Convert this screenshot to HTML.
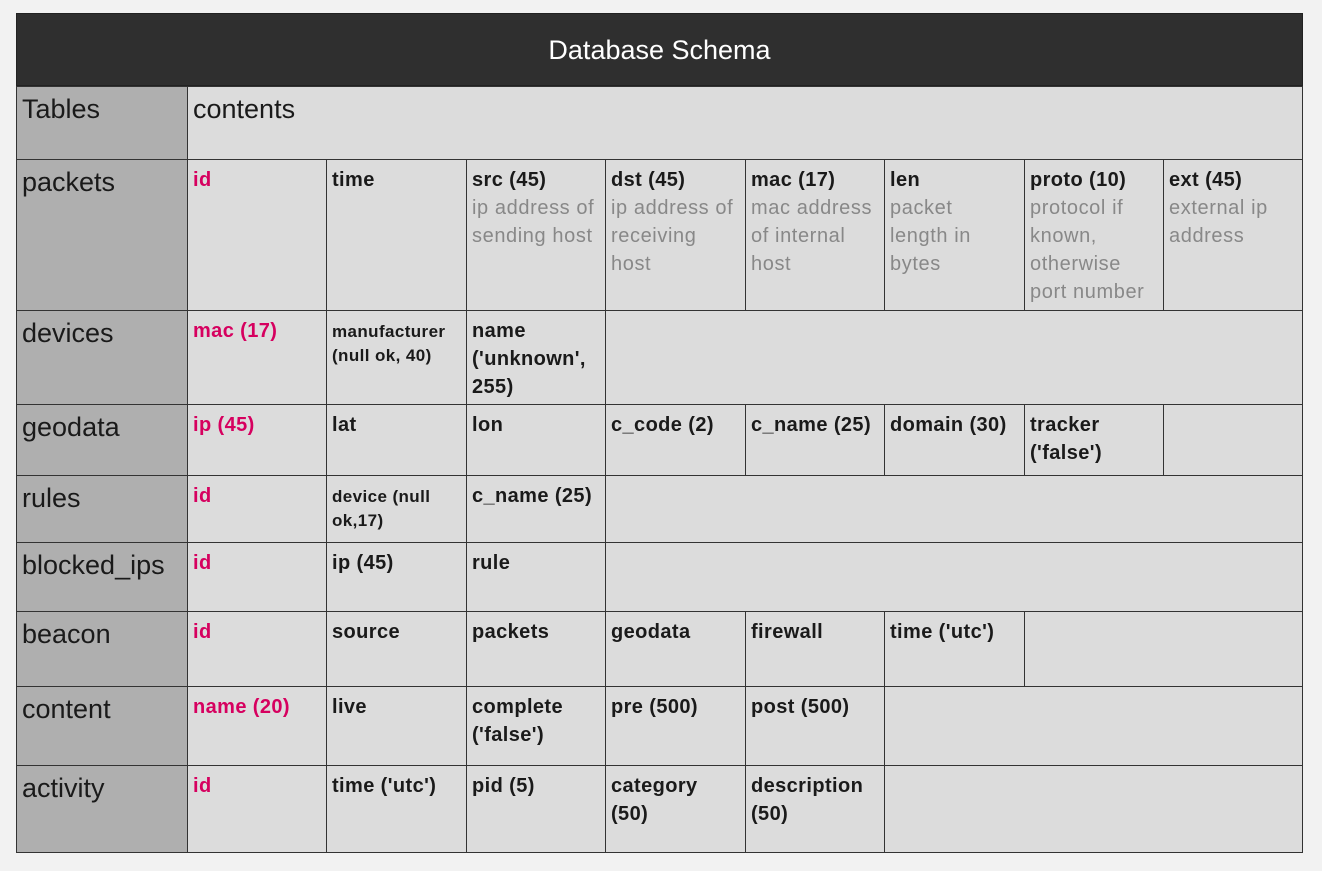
<!DOCTYPE html>
<html><head><meta charset="utf-8"><style>
body{margin:0;width:1322px;height:871px;background:#f2f2f2;font-family:"Liberation Sans","DejaVu Sans",sans-serif;position:relative;overflow:hidden}
.h{position:absolute;left:16px;top:13px;width:1287px;height:73px;background:#2f2f2f;color:#fff;font-size:27px;text-align:center;line-height:73px;box-sizing:border-box;border:1px solid #222}
.c{position:absolute;box-sizing:border-box;border:1px solid #333;background:#dcdcdc;padding:6px 5px 4px 5px;font-size:20px;line-height:28px;font-weight:bold;color:#1a1a1a;overflow:hidden;margin:0 -1px -1px 0;letter-spacing:0.4px}
.l{background:#afafaf;font-weight:normal;font-size:27px;line-height:44px;padding:0 5px;letter-spacing:0}
.p{color:#d6005f}
.g{font-weight:normal;color:#888;letter-spacing:0.6px}
.s{font-size:17px;line-height:24px}
</style></head><body>
<div class="h">Database Schema</div>
<div id="t"></div>
<script>
var X=[187,326,466,605,745,884,1024,1163,1302];
var rows=[
[86,159,"Tables",[['<span style="font-weight:normal;font-size:27px;line-height:44px;position:relative;top:-6px;letter-spacing:0">contents</span>',8]]],
[159,310,"packets",[['<span class=p>id</span>'],['time'],['src (45)<br><span class=g>ip address of sending host</span>'],['dst (45)<br><span class=g>ip address of receiving host</span>'],['mac (17)<br><span class=g>mac address of internal host</span>'],['len<br><span class=g>packet<br>length in<br>bytes</span>'],['proto (10)<br><span class=g>protocol if known, otherwise port number</span>'],['ext (45)<br><span class=g>external ip address</span>']]],
[310,404,"devices",[['<span class=p>mac (17)</span>'],['<div class=s style="padding-top:3px">manufacturer (null ok, 40)</div>'],["name ('unknown', 255)"],['',5]]],
[404,475,"geodata",[['<span class=p>ip (45)</span>'],['lat'],['lon'],['c_code (2)'],['c_name (25)'],['domain (30)'],["tracker ('false')"],['']]],
[475,542,"rules",[['<span class=p>id</span>'],['<div class=s style="padding-top:3px">device (null ok,17)</div>'],['c_name (25)'],['',5]]],
[542,611,"blocked_ips",[['<span class=p>id</span>'],['ip (45)'],['rule'],['',5]]],
[611,686,"beacon",[['<span class=p>id</span>'],['source'],['packets'],['geodata'],['firewall'],["time ('utc')"],['',2]]],
[686,765,"content",[['<span class=p>name (20)</span>'],['live'],["complete ('false')"],['pre (500)'],['post (500)'],['',3]]],
[765,852,"activity",[['<span class=p>id</span>'],["time ('utc')"],['pid (5)'],['category<br>(50)'],['description (50)'],['',3]]]
];
var h='';
rows.forEach(function(r){
 var y=r[0],hh=r[1]-r[0]+1;
 h+='<div class="c l" style="left:16px;top:'+y+'px;width:172px;height:'+hh+'px">'+r[2]+'</div>';
 var ci=0;
 r[3].forEach(function(c){var span=c[1]||1;var x0=X[ci],x1=X[ci+span];
  h+='<div class="c" style="left:'+x0+'px;top:'+y+'px;width:'+(x1-x0+1)+'px;height:'+hh+'px">'+c[0]+'</div>';ci+=span;});
});
document.getElementById('t').innerHTML=h;
</script>
</body></html>
